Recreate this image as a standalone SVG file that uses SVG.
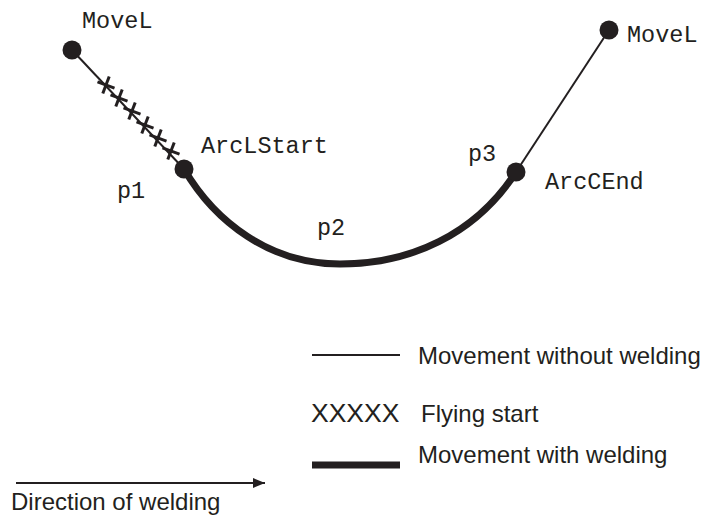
<svg xmlns="http://www.w3.org/2000/svg" width="702" height="524" viewBox="0 0 702 524">
<defs>
<style>
.mono{font-family:"Liberation Mono","Courier New",monospace;font-size:23.5px;fill:#231f20}
.sans{font-family:"Liberation Sans",Arial,sans-serif;font-size:24px;fill:#231f20}
.thin{stroke:#231f20;stroke-width:2;fill:none}
.thick{stroke:#231f20;stroke-width:7;fill:none;stroke-linecap:butt}
.pt{fill:#231f20}
.x{stroke:#231f20;stroke-width:3;fill:none}
</style>
<marker id="arr" markerWidth="12" markerHeight="10" refX="12" refY="5" orient="auto" markerUnits="userSpaceOnUse">
<path d="M0,0 L12,5 L0,10 Z" fill="#231f20"/>
</marker>
<g id="xm"><line class="x" x1="-8.5" y1="-3.2" x2="8.5" y2="3.2"/><line class="x" x1="3.2" y1="-8.5" x2="-3.2" y2="8.5"/></g>
</defs>
<g id="connectors">
<line class="thin" x1="72" y1="50" x2="184" y2="169"/>
<line class="thin" x1="516" y1="172" x2="609" y2="30"/>
<path class="thick" d="M184,169 C215,222 270,264 340,264 C410,264 475,235 516,172"/>
<g id="flying">
<use href="#xm" x="106" y="85"/>
<use href="#xm" x="119" y="98"/>
<use href="#xm" x="132" y="111"/>
<use href="#xm" x="145" y="125"/>
<use href="#xm" x="158" y="138"/>
<use href="#xm" x="171" y="151"/>
</g>
</g>
<g id="p0"><circle class="pt" cx="72" cy="50" r="9.5"/><text class="mono" x="82" y="28">MoveL</text></g>
<g id="p1"><circle class="pt" cx="184" cy="169" r="9.5"/><text class="mono" x="201" y="153">ArcLStart</text><text class="mono" x="117" y="198">p1</text></g>
<g id="p2"><text class="mono" x="317" y="235">p2</text></g>
<g id="p3"><circle class="pt" cx="516" cy="172" r="9.5"/><text class="mono" x="468" y="161">p3</text><text class="mono" x="545" y="189">ArcCEnd</text></g>
<g id="p4"><circle class="pt" cx="609" cy="30" r="9.5"/><text class="mono" x="627" y="42">MoveL</text></g>
<g id="legend">
<line class="thin" x1="312" y1="355" x2="400" y2="355"/>
<text class="sans" x="418" y="364">Movement without welding</text>
<text class="sans" x="311" y="422" style="font-size:26.5px">XXXXX</text>
<text class="sans" x="421" y="422">Flying start</text>
<line x1="312" y1="465" x2="400" y2="465" stroke="#231f20" stroke-width="7"/>
<text class="sans" x="418" y="463">Movement with welding</text>
<line class="thin" x1="16" y1="483" x2="265" y2="483" marker-end="url(#arr)"/>
<text class="sans" x="11" y="510">Direction of welding</text>
</g>
</svg>
